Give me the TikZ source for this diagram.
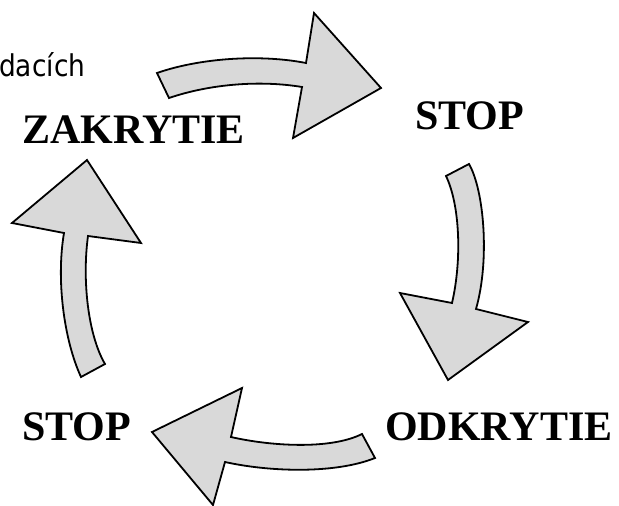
\documentclass[tikz,border=0pt]{standalone}
\usepackage{fontspec}
\setmainfont{Liberation Serif}
\newfontfamily\notesans[FakeStretch=0.88]{DejaVu Sans}
\usepackage{tikz}
\usetikzlibrary{positioning}
\definecolor{arrowgray}{RGB}{217,217,217}

\begin{document}
\begin{tikzpicture}[x=1pt,y=-1pt,
    cyclearrow/.style={fill=arrowgray,draw=black,line width=1.8pt,line join=miter},
    phase/.style={font=\fontsize{42}{48}\selectfont\bfseries,inner sep=0pt,anchor=base west}]
  \useasboundingbox (0,0) rectangle (619,506);
  % arrows
  \draw[cyclearrow] (157,73) .. controls (200,58) and (260,54) .. (306,63)
    -- (314,13) -- (381,88) -- (293,138) -- (302,87)
    .. controls (260,80) and (210,84) .. (169,98) -- cycle;   % top
  \draw[cyclearrow] (469,164) .. controls (484,190) and (490,260) .. (476,309)
    -- (528,322) -- (448,380) -- (400,293) -- (452,303)
    .. controls (462,260) and (460,205) .. (446,176) -- cycle; % right
  \draw[cyclearrow] (375,458) .. controls (335,474) and (270,472) .. (225,462)
    -- (213,505) -- (152,432) -- (242,388) -- (231,437)
    .. controls (270,446) and (330,450) .. (362,434) -- cycle; % bottom
  \draw[cyclearrow] (81,377) .. controls (64,340) and (56,280) .. (64,233)
    -- (12,223) -- (87,160) -- (141,243) -- (88,236)
    .. controls (82,280) and (88,335) .. (105,364) -- cycle;  % left
  % labels
  \node[phase] (zakrytie) at (22,143) {ZAKRYTIE};
  \node[phase] (stoptop)  at (415,129) {STOP};
  \node[phase] (odkrytie) at (385,440) {ODKRYTIE};
  \node[phase] (stopbot)  at (22,440) {STOP};
  \node[font=\notesans\fontsize{30}{36}\selectfont,inner sep=0pt,anchor=base west] (dacich) at (-1,76) {dacích};
\end{tikzpicture}
\end{document}
